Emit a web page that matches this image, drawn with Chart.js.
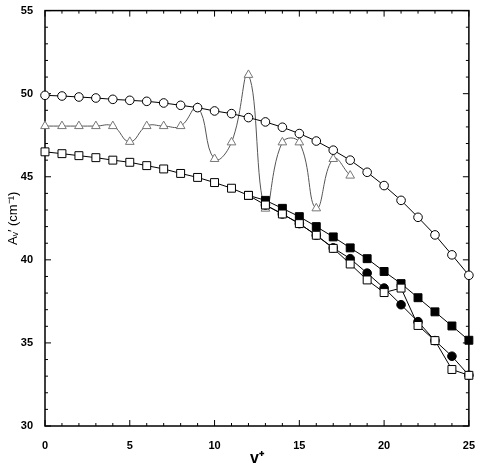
<!DOCTYPE html>
<html>
<head>
<meta charset="utf-8">
<script src="https://cdn.jsdelivr.net/npm/chart.js@4"></script>
<style>
  html, body { margin: 0; padding: 0; background: #fff; }
  #wrap { width: 480px; height: 464px; }
</style>
</head>
<body>
<div id="wrap"><canvas id="myChart"></canvas></div>
<script>
// values
var vAll = [0, 1, 2, 3, 4, 5, 6, 7, 8, 9, 10, 11, 12, 13, 14, 15, 16, 17, 18, 19, 20, 21, 22, 23, 24, 25];
var openCircles = [49.9, 49.86, 49.8, 49.74, 49.66, 49.6, 49.54, 49.44, 49.3, 49.16, 48.96, 48.8, 48.56, 48.3, 47.98, 47.6, 47.15, 46.6, 46.0, 45.27, 44.47, 43.58, 42.56, 41.5, 40.3, 39.07];
var openSquares = [46.5, 46.39, 46.27, 46.15, 46.0, 45.87, 45.67, 45.47, 45.2, 44.96, 44.65, 44.31, 43.88, 43.3, 42.76, 42.18, 41.48, 40.69, 39.75, 38.79, 38.03, 38.3, 36.05, 35.14, 33.4, 33.05];

var vTri = [0, 1, 2, 3, 4, 5, 6, 7, 8, 9, 10, 11, 12, 13, 14, 15, 16, 17, 18];
var triangles = [48.05, 48.05, 48.05, 48.05, 48.05, 47.1, 48.05, 48.05, 48.05, 49.16, 46.07, 47.07, 51.13, 43.08, 47.07, 47.07, 43.1, 46.07, 45.07];

var vFilledSq = [12, 13, 14, 15, 16, 17, 18, 19, 20, 21, 22, 23, 24, 25];
var filledSquares = [43.88, 43.58, 43.1, 42.6, 42.0, 41.38, 40.72, 40.07, 39.3, 38.57, 37.72, 36.87, 36.02, 35.16];

var vFilledCi = [13, 14, 15, 16, 17, 18, 19, 20, 21, 22, 23, 24, 25];
var filledCircles = [43.3, 42.76, 42.18, 41.48, 40.72, 40.07, 39.2, 38.3, 37.3, 36.28, 35.14, 34.2, 33.05];

var xTicks = [0, 5, 10, 15, 20, 25];
var yTicks = [30, 35, 40, 45, 50, 55];

function pts(xs, ys) {
  return xs.map(function (x, i) { return { x: x, y: ys[i] }; });
}

// box with inward ticks on all four sides
var frame = {
  id: 'frame',
  beforeDatasetsDraw: function (chart) {
    var ctx = chart.ctx, a = chart.chartArea, x = chart.scales.x, y = chart.scales.y;
    ctx.save();
    ctx.strokeStyle = '#000';
    ctx.lineWidth = 1;
    ctx.beginPath();
    for (var v = 0; v <= 25; v++) {
      var px = x.getPixelForValue(v), len = v % 5 === 0 ? 6 : 3;
      ctx.moveTo(px, a.bottom); ctx.lineTo(px, a.bottom - len);
      ctx.moveTo(px, a.top); ctx.lineTo(px, a.top + len);
    }
    for (var w = 30; w <= 55; w++) {
      var py = y.getPixelForValue(w), l2 = w % 5 === 0 ? 6 : 3;
      ctx.moveTo(a.left, py); ctx.lineTo(a.left + l2, py);
      ctx.moveTo(a.right, py); ctx.lineTo(a.right - l2, py);
    }
    ctx.stroke();
    ctx.lineWidth = 1.5;
    ctx.strokeRect(a.left, a.top, a.right - a.left, a.bottom - a.top);
    ctx.restore();
  }
};

var tickFont = { family: 'Liberation Sans', size: 11, weight: 'bold' };

new Chart('myChart', {
  type: 'scatter',
  data: {
    datasets: [
      {
        data: pts(vAll, openCircles), showLine: true, order: 1,
        borderColor: '#000', borderWidth: 1,
        pointStyle: 'circle', pointRadius: 4.3, pointBackgroundColor: '#fff', pointBorderColor: '#000', pointBorderWidth: 1
      },
      {
        data: pts(vAll, openSquares), showLine: true, order: 2,
        borderColor: '#000', borderWidth: 1,
        pointStyle: 'rect', pointRadius: 5.6, pointBackgroundColor: '#fff', pointBorderColor: '#000', pointBorderWidth: 1
      },
      {
        data: pts(vFilledCi, filledCircles), showLine: true, order: 3,
        borderColor: '#000', borderWidth: 1,
        pointStyle: 'circle', pointRadius: 4.3, pointBackgroundColor: '#000', pointBorderColor: '#000', pointBorderWidth: 1
      },
      {
        data: pts(vFilledSq, filledSquares), showLine: true, order: 4,
        borderColor: '#000', borderWidth: 1,
        pointStyle: 'rect', pointRadius: 5.6, pointBackgroundColor: '#000', pointBorderColor: '#000', pointBorderWidth: 1
      },
      {
        data: pts(vTri, triangles), showLine: true, order: 5, tension: 0.45,
        borderColor: '#555', borderWidth: 1,
        pointStyle: 'triangle', pointRadius: 5, pointBackgroundColor: '#fff', pointBorderColor: '#777', pointBorderWidth: 1
      }
    ].map(function (d) { d.clip = false; return d; })
  },
  options: {
    responsive: true,
    maintainAspectRatio: false,
    animation: false,
    events: [],
    layout: { padding: { top: 8, right: 9, left: 0, bottom: 0 } },
    plugins: { legend: { display: false }, tooltip: { enabled: false } },
    scales: {
      x: {
        type: 'linear', min: 0, max: 25,
        grid: { display: false }, border: { display: false },
        afterBuildTicks: function (s) { s.ticks = xTicks.map(function (v) { return { value: v }; }); },
        afterFit: function (s) { s.height = 38; },
        ticks: { color: '#000', font: tickFont, padding: 5, maxRotation: 0 },
        title: { display: true, text: 'v\u207A', color: '#000', font: { family: 'Liberation Sans', size: 16, weight: 'bold' }, padding: { top: 0, bottom: -4 } }
      },
      y: {
        type: 'linear', min: 30, max: 55,
        grid: { display: false }, border: { display: false },
        afterBuildTicks: function (s) { s.ticks = yTicks.map(function (v) { return { value: v }; }); },
        afterFit: function (s) { s.width = 45; },
        ticks: { color: '#000', font: tickFont, padding: 4 },
        title: { display: true, text: 'A\u1D65\u2032 (cm\u207B\u00B9)', color: '#000', font: { family: 'Liberation Sans', size: 13 }, padding: { top: 6, bottom: 0 } }
      }
    }
  },
  plugins: [frame]
});
</script>
</body>
</html>
